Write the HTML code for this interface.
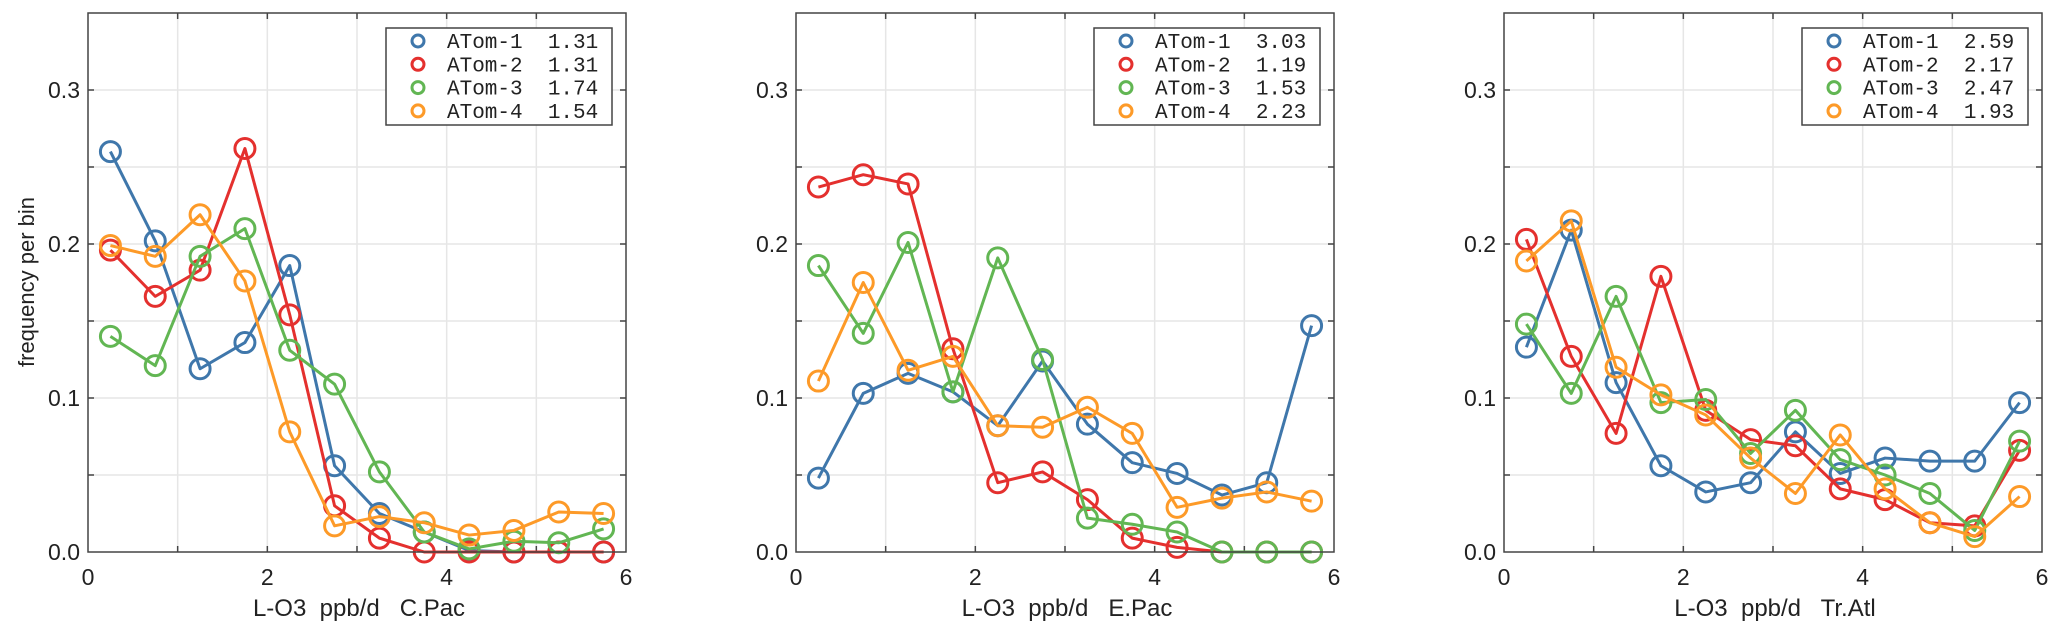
<!DOCTYPE html>
<html><head><meta charset="utf-8"><style>
html,body{margin:0;padding:0;background:#fff;}
svg{display:block;}
text{font-family:"Liberation Sans",sans-serif;fill:#222;}
.leg{font-family:"Liberation Mono",monospace;font-size:21px;fill:#222;white-space:pre;}
.pre{white-space:pre;}
</style></head><body>
<svg id="chart" width="2067" height="635" viewBox="0 0 2067 635" xmlns="http://www.w3.org/2000/svg"></svg>
<script>
const xCenters=[0.25,0.75,1.25,1.75,2.25,2.75,3.25,3.75,4.25,4.75,5.25,5.75];
const seriesNames=["ATom-1","ATom-2","ATom-3","ATom-4"];
const xTicks=[0,2,4,6];
const yTicks=[0.0,0.1,0.2,0.3];
const yTickLabels=["0.0","0.1","0.2","0.3"];
const regions=["C.Pac","E.Pac","Tr.Atl"];
const legendValuesCPac=["1.31","1.31","1.74","1.54"];
const legendValuesEPac=["3.03","1.19","1.53","2.23"];
const legendValuesTrAtl=["2.59","2.17","2.47","1.93"];
const cpacAtom1=[0.260,0.202,0.119,0.136,0.186,0.056,0.025,0.013,0.001,0,0,0];
const cpacAtom2=[0.196,0.166,0.183,0.262,0.154,0.030,0.009,0,0,0,0,0];
const cpacAtom3=[0.140,0.121,0.192,0.210,0.131,0.109,0.052,0.013,0.002,0.007,0.006,0.015];
const cpacAtom4=[0.199,0.192,0.219,0.176,0.078,0.017,0.023,0.019,0.011,0.014,0.026,0.025];
const epacAtom1=[0.048,0.103,0.116,0.104,0.082,0.124,0.083,0.058,0.051,0.037,0.045,0.147];
const epacAtom2=[0.237,0.245,0.239,0.132,0.045,0.052,0.034,0.009,0.003,0,0,0];
const epacAtom3=[0.186,0.142,0.201,0.104,0.191,0.125,0.022,0.018,0.013,0,0,0];
const epacAtom4=[0.111,0.175,0.118,0.127,0.082,0.081,0.094,0.077,0.029,0.035,0.039,0.033];
const tratlAtom1=[0.133,0.209,0.110,0.056,0.039,0.045,0.078,0.051,0.061,0.059,0.059,0.097];
const tratlAtom2=[0.203,0.127,0.077,0.179,0.092,0.073,0.069,0.041,0.034,0.019,0.017,0.066];
const tratlAtom3=[0.148,0.103,0.166,0.097,0.099,0.064,0.092,0.060,0.050,0.038,0.014,0.072];
const tratlAtom4=[0.189,0.215,0.120,0.102,0.089,0.061,0.038,0.076,0.041,0.019,0.010,0.036];

const colors=["#3f77ab","#e4302e","#62b653","#fd9a28"];
const panels=[
 {left:88,series:[cpacAtom1,cpacAtom2,cpacAtom3,cpacAtom4],leg:legendValuesCPac,region:regions[0]},
 {left:796,series:[epacAtom1,epacAtom2,epacAtom3,epacAtom4],leg:legendValuesEPac,region:regions[1]},
 {left:1504,series:[tratlAtom1,tratlAtom2,tratlAtom3,tratlAtom4],leg:legendValuesTrAtl,region:regions[2]}
];
const W=538,TOP=13,BOT=552,XMAX=6,YMAX=0.35;
const NS="http://www.w3.org/2000/svg";
const svg=document.getElementById('chart');
function mk(tag,attrs,parent){const e=document.createElementNS(NS,tag);for(const k in attrs)e.setAttribute(k,attrs[k]);(parent||svg).appendChild(e);return e;}

panels.forEach((p,pi)=>{
  const xs=v=>p.left+v/XMAX*W;
  const ys=v=>BOT-v/YMAX*(BOT-TOP);
  const g=mk('g',{});
  
  
  for(let i=1;i<6;i++){const l=mk('line',{x1:xs(i),x2:xs(i),y1:TOP,y2:BOT,stroke:'#e6e6e6','stroke-width':1.5},g);
    
    }
  for(let v=0.05;v<YMAX;v+=0.05){const l=mk('line',{x1:p.left,x2:p.left+W,y1:ys(v),y2:ys(v),stroke:'#e6e6e6','stroke-width':1.5},g);
    
    }
  for(let i=1;i<6;i++){mk('line',{x1:xs(i),x2:xs(i),y1:BOT,y2:BOT-6,stroke:'#444','stroke-width':1.5},g);mk('line',{x1:xs(i),x2:xs(i),y1:TOP,y2:TOP+6,stroke:'#444','stroke-width':1.5},g);}
  for(let v=0.05;v<YMAX;v+=0.05){mk('line',{x1:p.left,x2:p.left+6,y1:ys(v),y2:ys(v),stroke:'#444','stroke-width':1.5},g);mk('line',{x1:p.left+W,x2:p.left+W-6,y1:ys(v),y2:ys(v),stroke:'#444','stroke-width':1.5},g);}
  p.series.forEach((vals,si)=>{
    const sg=mk('g',{},g);
    
    
    const pts=vals.map((v,i)=>xs(xCenters[i])+','+ys(v)).join(' ');
    const pl=mk('polyline',{points:pts,fill:'none',stroke:colors[si],'stroke-width':3,'stroke-linejoin':'round'},sg);
    
    
    vals.forEach((v,i)=>{
      const c=mk('circle',{cx:xs(xCenters[i]),cy:ys(v),r:10,fill:'none',stroke:colors[si],'stroke-width':3},sg);
      
      
    });
  });
  const fr=mk('rect',{x:p.left,y:TOP,width:W,height:BOT-TOP,fill:'none',stroke:'#444','stroke-width':1.5},g);
  
  
  xTicks.forEach(t=>{const tx=mk('text',{x:xs(t),y:585,'text-anchor':'middle','font-size':23},g);tx.textContent=t;
    
    });
  yTicks.forEach((t,i)=>{const tx=mk('text',{x:p.left-8,y:ys(t)+8,'text-anchor':'end','font-size':23},g);tx.textContent=yTickLabels[i];
    
    });
  const xl=mk('text',{x:p.left+W/2+2,y:616,'text-anchor':'middle','font-size':24,'class':'pre'},g);
  xl.textContent='L-O3  ppb/d   '+p.region;
  
  
  const lx=p.left+W-240,ly=28;
  const lg=mk('g',{},g);
  
  
  mk('rect',{x:lx,y:ly,width:226,height:97,fill:'#fff',stroke:'#444','stroke-width':1.5},lg);
  seriesNames.forEach((n,i)=>{
    const cy=41+i*23.3;
    const e=mk('g',{},lg);
    
    
    mk('circle',{cx:lx+32,cy:cy,r:6,fill:'none',stroke:colors[i],'stroke-width':3},e);
    const t=mk('text',{x:lx+61,y:cy+7,'class':'leg'},e);
    t.textContent=n+'  '+p.leg[i];
  });
});
const yl=mk('text',{x:0,y:0,'text-anchor':'middle','font-size':22,transform:'translate(34,282) rotate(-90)'});
yl.textContent='frequency per bin';


</script>
</body></html>
